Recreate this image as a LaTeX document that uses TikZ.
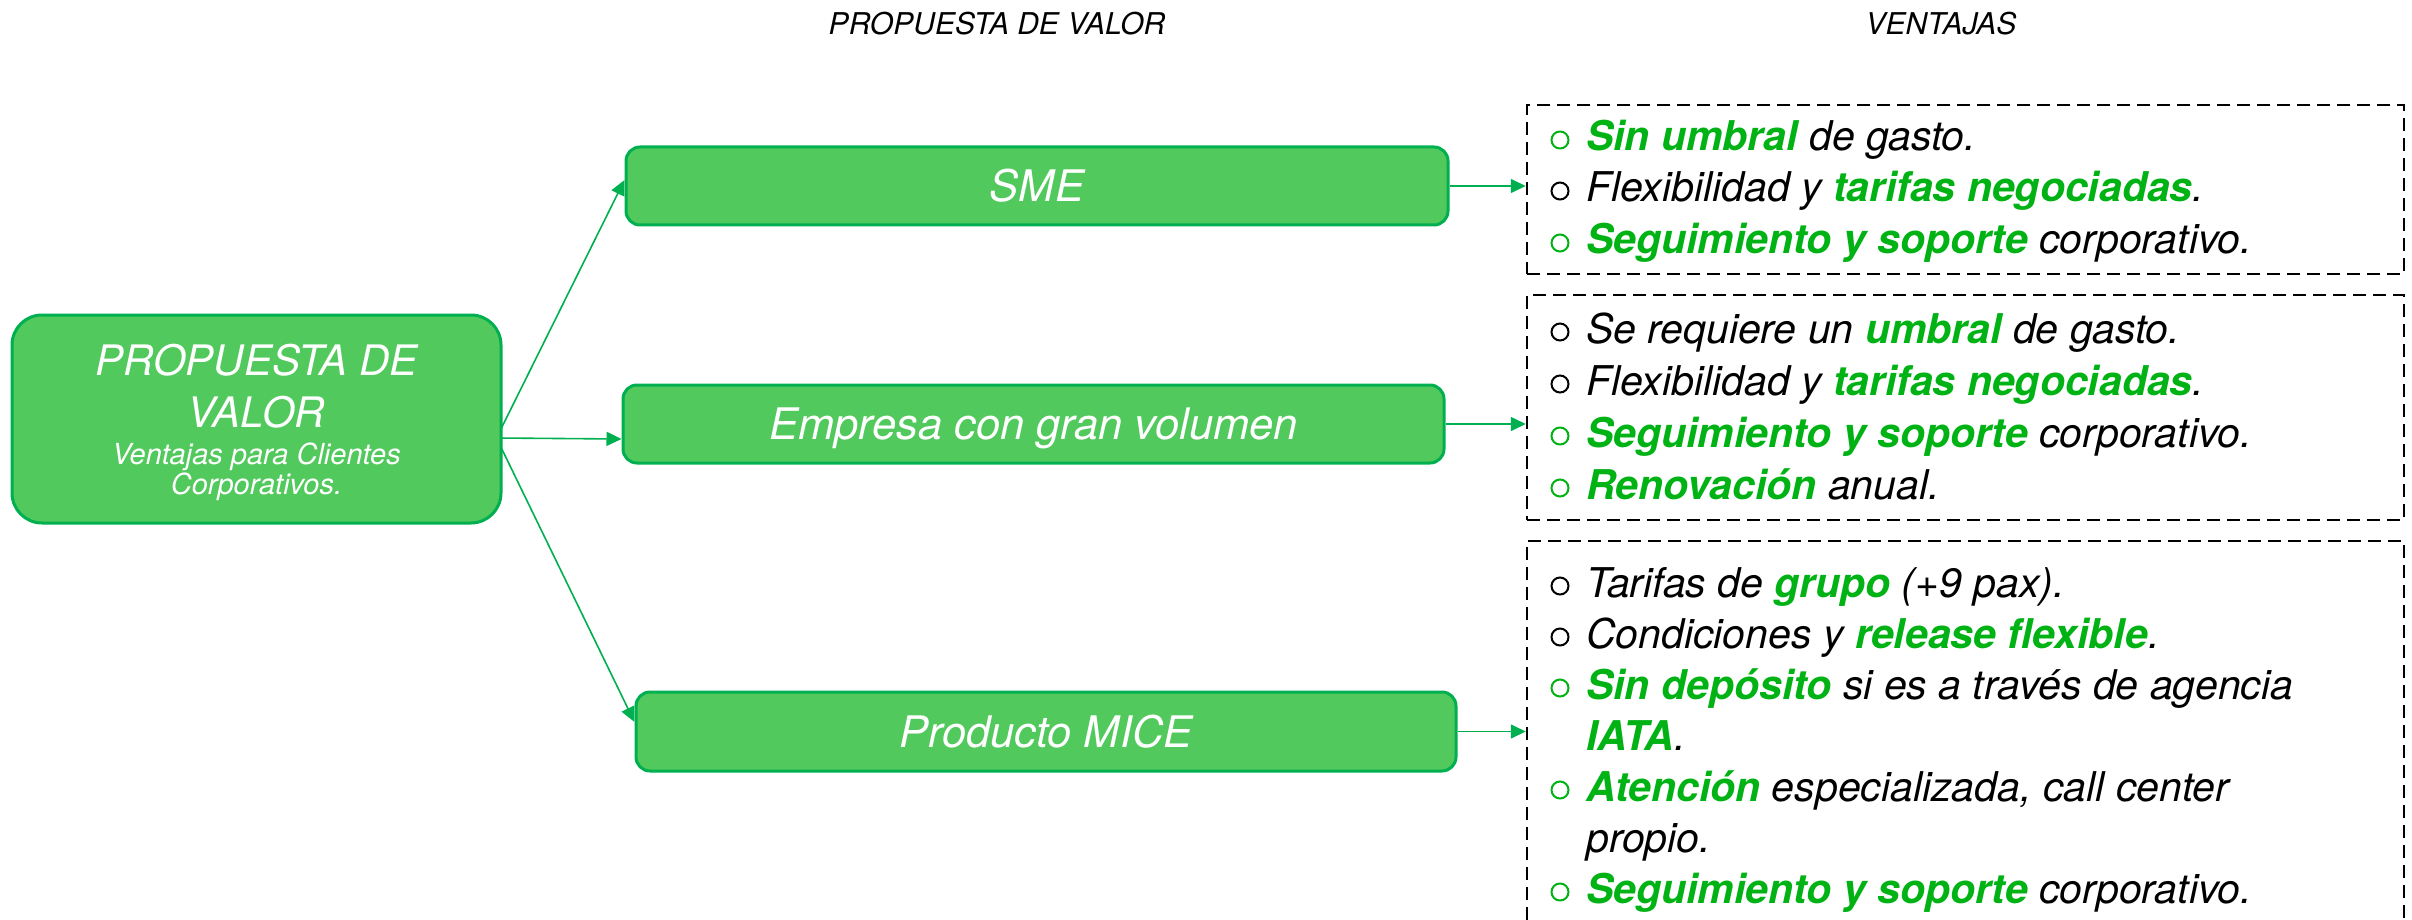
\documentclass[tikz,border=0pt]{standalone}
\usepackage{fontspec}
\setmainfont{TeX Gyre Heros}
\usetikzlibrary{arrows.meta,backgrounds}
\definecolor{boxfill}{RGB}{81,201,92}
\definecolor{boxline}{RGB}{0,176,80}
\definecolor{arr}{RGB}{0,176,80}
\definecolor{tg}{RGB}{0,178,20}
\newcommand\fsz[1]{\fontsize{#1}{#1}\selectfont}
\newcommand\gr[1]{\textcolor{tg}{\bfseries #1}}
\tikzset{
  gbox/.style={draw=boxline, fill=boxfill, line width=3pt, rounded corners=14pt,
    inner sep=0pt, text=white, font=\fsz{43.5}\itshape, text height=31.3pt, text depth=0pt},
  mainbox/.style={gbox, rounded corners=30pt},
  mtxt/.style={anchor=base, inner sep=0pt, text=white},
  vbox/.style={draw=black, line width=2.5pt, dash pattern=on 13pt off 7pt, inner sep=0pt},
  txt/.style={anchor=base west, inner sep=0pt, font=\fsz{41}\itshape},
  bul/.style={circle, draw, line width=2pt, minimum size=17pt, inner sep=0pt},
  bulg/.style={bul, draw=tg},
  hdr/.style={anchor=base, inner sep=0pt, font=\fsz{30}\itshape},
  conn/.style={draw=arr, line width=1.6pt, -{Triangle[length=15pt,width=14pt]}}
}
\begin{document}
\begin{tikzpicture}[x=1pt,y=-1pt]
\useasboundingbox (0,0) rectangle (2412,920);

% headers
\node[hdr] (h1) at (997,35) {PROPUESTA DE VALOR};
\node[hdr] (h2) at (1941,35) {VENTAJAS};

% main node
\node[mainbox, minimum width=489pt, minimum height=208pt] (main) at (256.5,419) {};
\node[mtxt, font=\fsz{42}\itshape] (m1) at (256.5,375) {PROPUESTA DE};
\node[mtxt, font=\fsz{42}\itshape] (m2) at (256.5,427) {VALOR};
\node[mtxt, font=\fsz{29}\itshape] (m3) at (256.5,464) {Ventajas para Clientes};
\node[mtxt, font=\fsz{29}\itshape] (m4) at (256.5,494) {Corporativos.};

% middle boxes
\node[gbox, minimum width=822pt, minimum height=78pt] (sme) at (1037,186) {SME};
\node[gbox, minimum width=821pt, minimum height=78pt] (emp) at (1033.5,424) {Empresa con gran volumen};
\node[gbox, minimum width=820pt, minimum height=79pt] (mice) at (1046,731.5) {Producto MICE};

% dashed boxes
\node[vbox, minimum width=877pt, minimum height=169pt] (v1) at (1965.5,189.5) {};
\node[vbox, minimum width=877pt, minimum height=225pt] (v2) at (1965.5,407.5) {};
\begin{scope}
\clip (0,0) rectangle (2412,920);
\node[vbox, minimum width=877pt, minimum height=440pt] (v3) at (1965.5,761) {};
\end{scope}

% box 1 text
\node[bulg] (b11) at (1560,140) {};
\node[txt] (t11) at (1586,151) {\gr{Sin umbral} de gasto.};
\node[bul] (b12) at (1560,191) {};
\node[txt] (t12) at (1586,202) {Flexibilidad y \gr{tarifas negociadas}.};
\node[bulg] (b13) at (1560,243) {};
\node[txt] (t13) at (1586,254) {\gr{Seguimiento y soporte} corporativo.};

% box 2 text
\node[bul] (b21) at (1560,332) {};
\node[txt] (t21) at (1586,343) {Se requiere un \gr{umbral} de gasto.};
\node[bul] (b22) at (1560,384) {};
\node[txt] (t22) at (1586,395) {Flexibilidad y \gr{tarifas negociadas}.};
\node[bulg] (b23) at (1560,436) {};
\node[txt] (t23) at (1586,447) {\gr{Seguimiento y soporte} corporativo.};
\node[bulg] (b24) at (1560,488) {};
\node[txt] (t24) at (1586,499) {\gr{Renovación} anual.};

% box 3 text
\node[bul] (b31) at (1560,586) {};
\node[txt] (t31) at (1586,597) {Tarifas de \gr{grupo} (+9 pax).};
\node[bul] (b32) at (1560,637) {};
\node[txt] (t32) at (1586,648) {Condiciones y \gr{release flexible}.};
\node[bulg] (b33) at (1560,688) {};
\node[txt] (t33) at (1586,699) {\gr{Sin depósito} si es a través de agencia};
\node[txt] (t34) at (1586,750) {\gr{IATA}.};
\node[bulg] (b35) at (1560,790) {};
\node[txt] (t35) at (1586,801) {\gr{Atención} especializada, call center};
\node[txt] (t36) at (1586,852) {propio.};
\node[bulg] (b37) at (1560,892) {};
\node[txt] (t37) at (1586,903) {\gr{Seguimiento y soporte} corporativo.};

% connectors
\coordinate (src) at ([xshift=-6pt,yshift=-19pt]main.east);
\begin{pgfonlayer}{background}
\draw[conn] (src) -- ([yshift=6pt]sme.west);
\draw[conn] (src) -- ([yshift=-15pt]emp.west);
\draw[conn] (src) -- ([yshift=9.5pt]mice.west);
\end{pgfonlayer}
\draw[conn] (sme.east) -- (sme.east -| v1.west);
\draw[conn] (emp.east) -- (emp.east -| v2.west);
\draw[conn] (mice.east) -- (mice.east -| v3.west);
\end{tikzpicture}
\end{document}
